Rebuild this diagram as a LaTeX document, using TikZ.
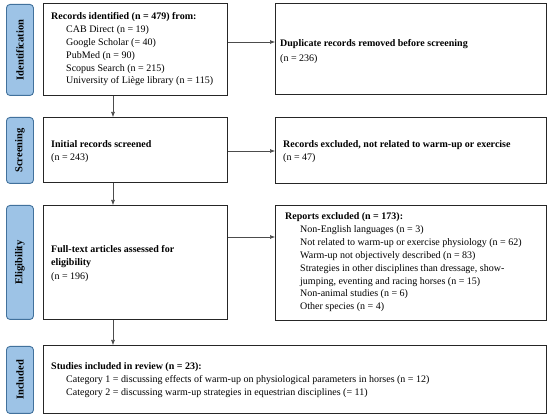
\documentclass[tikz,border=0pt]{standalone}
\usepackage{fontspec}
\setmainfont{Liberation Serif}
\usetikzlibrary{arrows.meta}
\definecolor{lblfill}{HTML}{9DC3E6}
\definecolor{lbldraw}{HTML}{41719C}
\begin{document}
\begin{tikzpicture}[x=1pt,y=-1pt,
  box/.style={draw=black!85, line width=1pt, inner sep=0, anchor=north west},
  lbl/.style={draw=lbldraw, fill=lblfill, line width=0.9pt, rounded corners=3.5pt, inner sep=0, anchor=north west},
  lbltext/.style={rotate=90, inner sep=0, font=\fontsize{10.5}{11}\selectfont\bfseries},
  txt/.style={anchor=west, inner sep=0, text height=6.8pt, text depth=2pt, font=\fontsize{10}{11}\selectfont},
  btxt/.style={txt, font=\fontsize{10}{11}\selectfont\bfseries},
  arr/.style={draw=black!70, line width=0.6pt, -{Latex[length=5pt,width=4pt]}}]
\useasboundingbox (0,0) rectangle (550,417);
% side labels
\node[lbl, minimum width=27pt, minimum height=91pt] (lid) at (6,4) {};
\node[lbltext] (lidt) at (lid.center) {Identification};
\node[lbl, minimum width=27pt, minimum height=66pt] (lscr) at (6,117) {};
\node[lbltext] (lscrt) at (lscr.center) {Screening};
\node[lbl, minimum width=27pt, minimum height=114pt] (lelg) at (6,205) {};
\node[lbltext] (lelgt) at (lelg.center) {Eligibility};
\node[lbl, minimum width=27pt, minimum height=67pt] (linc) at (6,346) {};
\node[lbltext] (linct) at (linc.center) {Included};
% boxes
\node[box, minimum width=184pt, minimum height=92pt] (idb) at (43,3) {};
\node[box, minimum width=271pt, minimum height=91pt] (dup) at (275,3) {};
\node[box, minimum width=184pt, minimum height=65pt] (scr) at (43,117) {};
\node[box, minimum width=271pt, minimum height=66pt] (exc) at (275,117) {};
\node[box, minimum width=184pt, minimum height=114pt] (elg) at (43,205) {};
\node[box, minimum width=271pt, minimum height=115pt] (rep) at (275,205) {};
\node[box, minimum width=503pt, minimum height=68pt] (inc) at (43,345) {};
% texts: identification
\node[btxt] (id0) at (51,17.5) {Records identified (n = 479) from:};
\node[txt] (id1) at (66,30.3) {CAB Direct (n = 19)};
\node[txt] (id2) at (66,43.1) {Google Scholar (= 40)};
\node[txt] (id3) at (66,55.9) {PubMed (n = 90)};
\node[txt] (id4) at (66,68.7) {Scopus Search (n = 215)};
\node[txt] (id5) at (66,81.5) {University of Liège library (n = 115)};
\node[btxt] (du0) at (280,44) {Duplicate records removed before screening};
\node[txt] (du1) at (280,59) {(n = 236)};
% screening
\node[btxt] (sc0) at (51,145) {Initial records screened};
\node[txt] (sc1) at (51,158) {(n = 243)};
\node[btxt] (ex0) at (283,145) {Records excluded, not related to warm-up or exercise};
\node[txt] (ex1) at (283,158) {(n = 47)};
% eligibility
\node[btxt] (el0) at (51,250) {Full-text articles assessed for};
\node[btxt] (el1) at (51,263) {eligibility};
\node[txt] (el2) at (51,277) {(n = 196)};
\node[btxt] (re0) at (285,217) {Reports excluded (n = 173):};
\node[txt] (re1) at (300,230) {Non-English languages (n = 3)};
\node[txt] (re2) at (300,243) {Not related to warm-up or exercise physiology (n = 62)};
\node[txt] (re3) at (300,256) {Warm-up not objectively described (n = 83)};
\node[txt] (re4) at (300,269) {Strategies in other disciplines than dressage, show-};
\node[txt] (re5) at (300,282) {jumping, eventing and racing horses (n = 15)};
\node[txt] (re6) at (300,294.5) {Non-animal studies (n = 6)};
\node[txt] (re7) at (300,307) {Other species (n = 4)};
% included
\node[btxt] (in0) at (51,367) {Studies included in review (n = 23):};
\node[txt] (in1) at (66,380) {Category 1 = discussing effects of warm-up on physiological parameters in horses (n = 12)};
\node[txt] (in2) at (66,393) {Category 2 = discussing warm-up strategies in equestrian disciplines (= 11)};
% arrows
\draw[arr] (idb.east |- 0,42) -- (dup.west |- 0,42);
\draw[arr] (scr.east |- 0,151) -- (exc.west |- 0,151);
\draw[arr] (elg.east |- 0,237) -- (rep.west |- 0,237);
\draw[arr] (idb.south -| 113,0) -- (scr.north -| 113,0);
\draw[arr] (scr.south -| 113,0) -- (elg.north -| 113,0);
\draw[arr] (elg.south -| 113,0) -- (inc.north -| 113,0);
\end{tikzpicture}
\end{document}
